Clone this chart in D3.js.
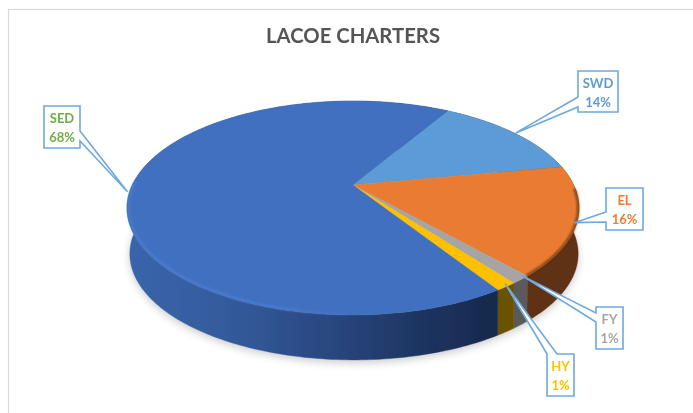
<!DOCTYPE html>
<html><head><meta charset="utf-8">
<script src="https://cdn.jsdelivr.net/npm/d3@7"></script>
<style>html,body{margin:0;padding:0;background:#fff}svg{display:block}</style>
</head><body><svg id="c" width="693" height="413"></svg>
<script>
const chartTitle = "LACOE CHARTERS";
const categories = ["SWD","EL","FY","HY","SED"];
const shares = [13.6,16.4,1.2,1.3,67.5];
const topColors = ["#5B9BD5","#E97C30","#A5A5A5","#FFC000","#4170BF"];
const sideColors = ["#2f5573","#5E3212","#5A5A5A","#6B5200","url(#sedSide)"];
const labelColors = ["#5B9BD5","#ED7D31","#A5A5A5","#FFC000","#70AD47"];
// callout box: left, top, width, height
const boxes = {SWD:[578,71,40,41],EL:[606,188,37,42],FY:[596,307,27,42],HY:[547,354,27,42],SED:[44,106,36,42]};

const W=693,H=413,svg=d3.select("#c");
const apex=[353,185],k=0.215,ax=220.7,by=102,depth=46,shrink=0.992,drift=1;
const project=(ang,r=1,z=0)=>{
  const u=r*Math.sin(ang),v=-r*Math.cos(ang),s=1-k*v,f=z?shrink:1;
  return [apex[0]+f*ax*u/s+(z?drift:0), apex[1]+f*by*v/s+z];
};
const rad=d=>d*Math.PI/180;
const samples=(a,b)=>{const n=Math.max(2,Math.ceil((b-a)/rad(1)));return d3.range(n+1).map(i=>a+(b-a)*i/n);};
const line=d3.line();
const pie=d3.pie().sort(null).startAngle(rad(30.5)).endAngle(rad(390.5));
const arcs=pie(shares).map((a,i)=>({...a,name:categories[i],i}));

const defs=svg.append("defs");
const grad=defs.append("linearGradient").attr("id","sedSide").attr("gradientUnits","userSpaceOnUse")
  .attr("x1",128).attr("x2",497).attr("y1",0).attr("y2",0);
[[0,"#3A65AB"],[0.3,"#33599A"],[0.55,"#29477F"],[0.8,"#1D3460"],[1,"#17294C"]].forEach(s=>grad.append("stop").attr("offset",s[0]).attr("stop-color",s[1]));
const bev=defs.append("linearGradient").attr("id","bevel").attr("gradientUnits","userSpaceOnUse")
  .attr("x1",126).attr("x2",400).attr("y1",0).attr("y2",0);
[[0,"#4B7ED3",0.9],[0.55,"#4B7ED3",0.9],[1,"#4170BF",0]].forEach(s=>bev.append("stop").attr("offset",s[0]).attr("stop-color",s[1]).attr("stop-opacity",s[2]));
const blur=(id,sd)=>defs.append("filter").attr("id",id).attr("x","-10%").attr("y","-10%").attr("width","120%").attr("height","120%")
  .append("feGaussianBlur").attr("stdDeviation",sd);
blur("soft",0.6);blur("shadow",4);blur("edge",1.1);
defs.append("filter").attr("id","textSoft").attr("filterUnits","userSpaceOnUse").attr("x",0).attr("y",0).attr("width",W).attr("height",H)
  .append("feGaussianBlur").attr("stdDeviation",0.35);

const root=svg.append("g").attr("filter","url(#soft)");
root.append("rect").attr("x",8.5).attr("y",9.5).attr("width",W).attr("height",H).attr("fill","#fff").attr("stroke","#D9D9D9").attr("stroke-width",1.2);

// soft ground shadow
const full=samples(0,2*Math.PI);
root.append("path").attr("d",line(full.map(a=>project(a,1,depth+3)))+"Z").attr("fill","#000").attr("opacity",0.2).attr("filter","url(#shadow)");

// side walls
const walls=root.append("g");
arcs.forEach(d=>{
  const t=samples(d.startAngle,d.endAngle);
  const pts=t.map(a=>project(a)).concat(t.slice().reverse().map(a=>project(a,1,depth)));
  walls.append("path").attr("d",line(pts)+"Z").attr("fill",sideColors[d.i]).attr("stroke",sideColors[d.i]).attr("stroke-width",0.4);
});

// top face
const tops=root.append("g");
arcs.forEach(d=>{
  const pts=[apex].concat(samples(d.startAngle,d.endAngle).map(a=>project(a)));
  tops.append("path").attr("d",line(pts)+"Z").attr("fill",topColors[d.i]).attr("stroke",topColors[d.i]).attr("stroke-width",0.3);
});

// rim bevel
const sed=arcs[4],el=arcs[1];
root.append("path").attr("d",line(samples(sed.startAngle+rad(15),rad(272)).map(a=>project(a,0.993))))
  .attr("fill","none").attr("stroke","url(#bevel)").attr("stroke-width",2.2).attr("filter","url(#edge)");
root.append("path").attr("d",line(samples(rad(92),el.endAngle).map(a=>project(a,0.996))))
  .attr("fill","none").attr("stroke","#5a2e0e").attr("stroke-width",1.8).attr("filter","url(#edge)");

// callouts
const tipShift={SWD:[2,0],EL:[-3,2],FY:[1,-4],HY:[-1,-3],SED:[-4,5]};
const fmt=d3.format(".0f");
const textLayer=svg.append("g").attr("filter","url(#textSoft)");
textLayer.append("text").attr("x",353).attr("y",43).attr("text-anchor","middle")
  .attr("font-family","Lato").attr("font-weight",700).attr("font-size",20.3).attr("fill","#555555").text(chartTitle);
arcs.forEach(d=>{
  const [x,y,w,h]=boxes[d.name],mid=(d.startAngle+d.endAngle)/2,p=project(mid),s=tipShift[d.name];
  const tip=[p[0]+s[0],p[1]+s[1]],x1=x+w,y1=y+h;
  let outline;
  if(d.name==="SED") outline=[[x,y],[x1,y],[x1,y+25],tip,[x1,y+35],[x1,y1],[x,y1]];
  if(d.name==="SWD") outline=[[x,y],[x1,y],[x1,y1],[x,y1],[x,y+36],tip,[x,y+26]];
  if(d.name==="EL") outline=[[x,y],[x1,y],[x1,y1],[x,y1],[x,y+34],tip,[x,y+24]];
  if(d.name==="FY") outline=[[x,y],[x1,y],[x1,y1],[x,y1],[x,y+15],tip,[x,y+6]];
  if(d.name==="HY") outline=[[x,y],tip,[x+10,y],[x1,y],[x1,y1],[x,y1]];
  root.append("path").attr("d",line(outline)+"Z").attr("fill","#fff").attr("stroke","#6FA8DC").attr("stroke-width",1.6);
  const t=textLayer.append("text").attr("text-anchor","middle").attr("font-family","Lato").attr("font-weight",700)
    .attr("font-size",13).attr("fill",labelColors[d.i]);
  t.append("tspan").attr("x",x+w/2).attr("y",y+17).text(d.name);
  t.append("tspan").attr("x",x+w/2).attr("y",y+36).text(fmt(d.value)+"%");
});
</script></body></html>
